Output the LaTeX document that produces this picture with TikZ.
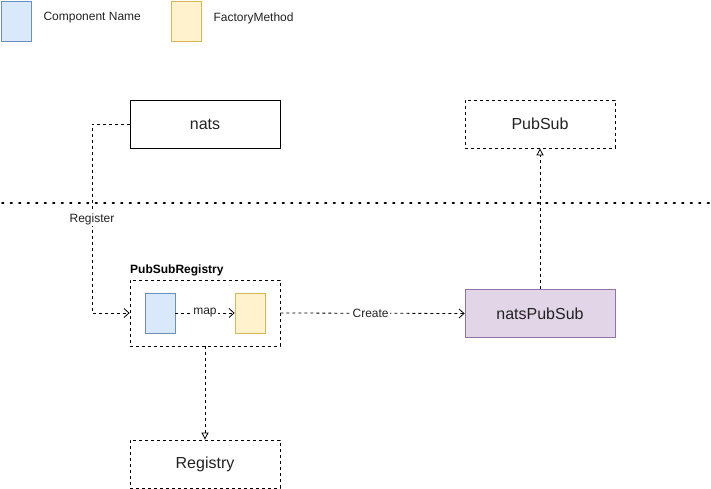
\documentclass[tikz,border=0pt]{standalone}
\usepackage{fontspec}
\setmainfont{Liberation Sans}
\usetikzlibrary{arrows.meta}
\definecolor{bluef}{HTML}{DAE8FC}\definecolor{blues}{HTML}{6C8EBF}
\definecolor{yelf}{HTML}{FFF2CC}\definecolor{yels}{HTML}{D6B656}
\definecolor{purf}{HTML}{E1D5E7}\definecolor{purs}{HTML}{9673A6}
\definecolor{txt}{HTML}{222222}
\tikzset{
  box/.style={draw=black, line width=0.8pt, minimum width=150pt, minimum height=48pt, inner sep=0pt, font=\fontsize{16}{18}\selectfont, text=txt},
  dbox/.style={box, dash pattern=on 3pt off 3pt},
  small/.style={draw, line width=0.8pt, minimum width=30pt, minimum height=40pt, inner sep=0pt},
  conn/.style={line width=0.8pt, dash pattern=on 3pt off 3pt},
  barb/.style={-{Straight Barb[length=5pt,width=9pt]}},
  tri/.style={-{Triangle[open,length=7pt,width=7pt]}},
  lbl/.style={fill=white, inner sep=1pt, font=\fontsize{12}{14}\selectfont, text=txt},
  legend/.style={font=\fontsize{12}{14}\selectfont, text=txt, anchor=west}
}
\begin{document}
\begin{tikzpicture}[x=1pt,y=-1pt]
\useasboundingbox (0,0) rectangle (711,489);
% legend
\node[small, fill=bluef, draw=blues, anchor=north west] (lb) at (1,1) {};
\node[legend] (lbt) at (40,18) {Component Name};
\node[small, fill=yelf, draw=yels, anchor=north west] (ly) at (171,1) {};
\node[legend] (lyt) at (210,18) {FactoryMethod};
% separator
\draw[line width=1.6pt, dash pattern=on 1.6pt off 6.9pt, line cap=round] (2,203) -- (711,203);
% nodes
\node[box] (nats) at (205,124) {nats};
\node[dbox] (pubsub) at (540,124) {PubSub};
\node[draw=black, conn, minimum width=150pt, minimum height=66pt, inner sep=0pt] (reg) at (205,313) {};
\node[anchor=south west, inner sep=0pt, font=\bfseries\fontsize{12}{14}\selectfont] (regt) at (130,276) {PubSubRegistry};
\node[small, fill=bluef, draw=blues] (cn) at (160,313) {};
\node[small, fill=yelf, draw=yels] (fm) at (250,313) {};
\node[box, fill=purf, draw=purs] (nps) at (540,313.5) {natsPubSub};
\node[dbox] (registry) at (205,464) {Registry};
\coordinate (c1) at (92,124);
\coordinate (c2) at (92,313);
% connectors
\draw[conn, barb] (nats.west) -- (c1) -- (c2) -- (reg.west);
\node[lbl] (regl) at (92,219) {Register};
\draw[conn, barb] (cn.east) -- node[lbl] (mapl) {map} (fm.west);
\draw[conn, barb] (reg.east) -- node[lbl, pos=0.49] (crl) {Create} (nps.west);
\draw[conn, tri] (nps.north) -- (pubsub.south);
\draw[conn, tri] (reg.south) -- (registry.north);
\end{tikzpicture}
\end{document}
